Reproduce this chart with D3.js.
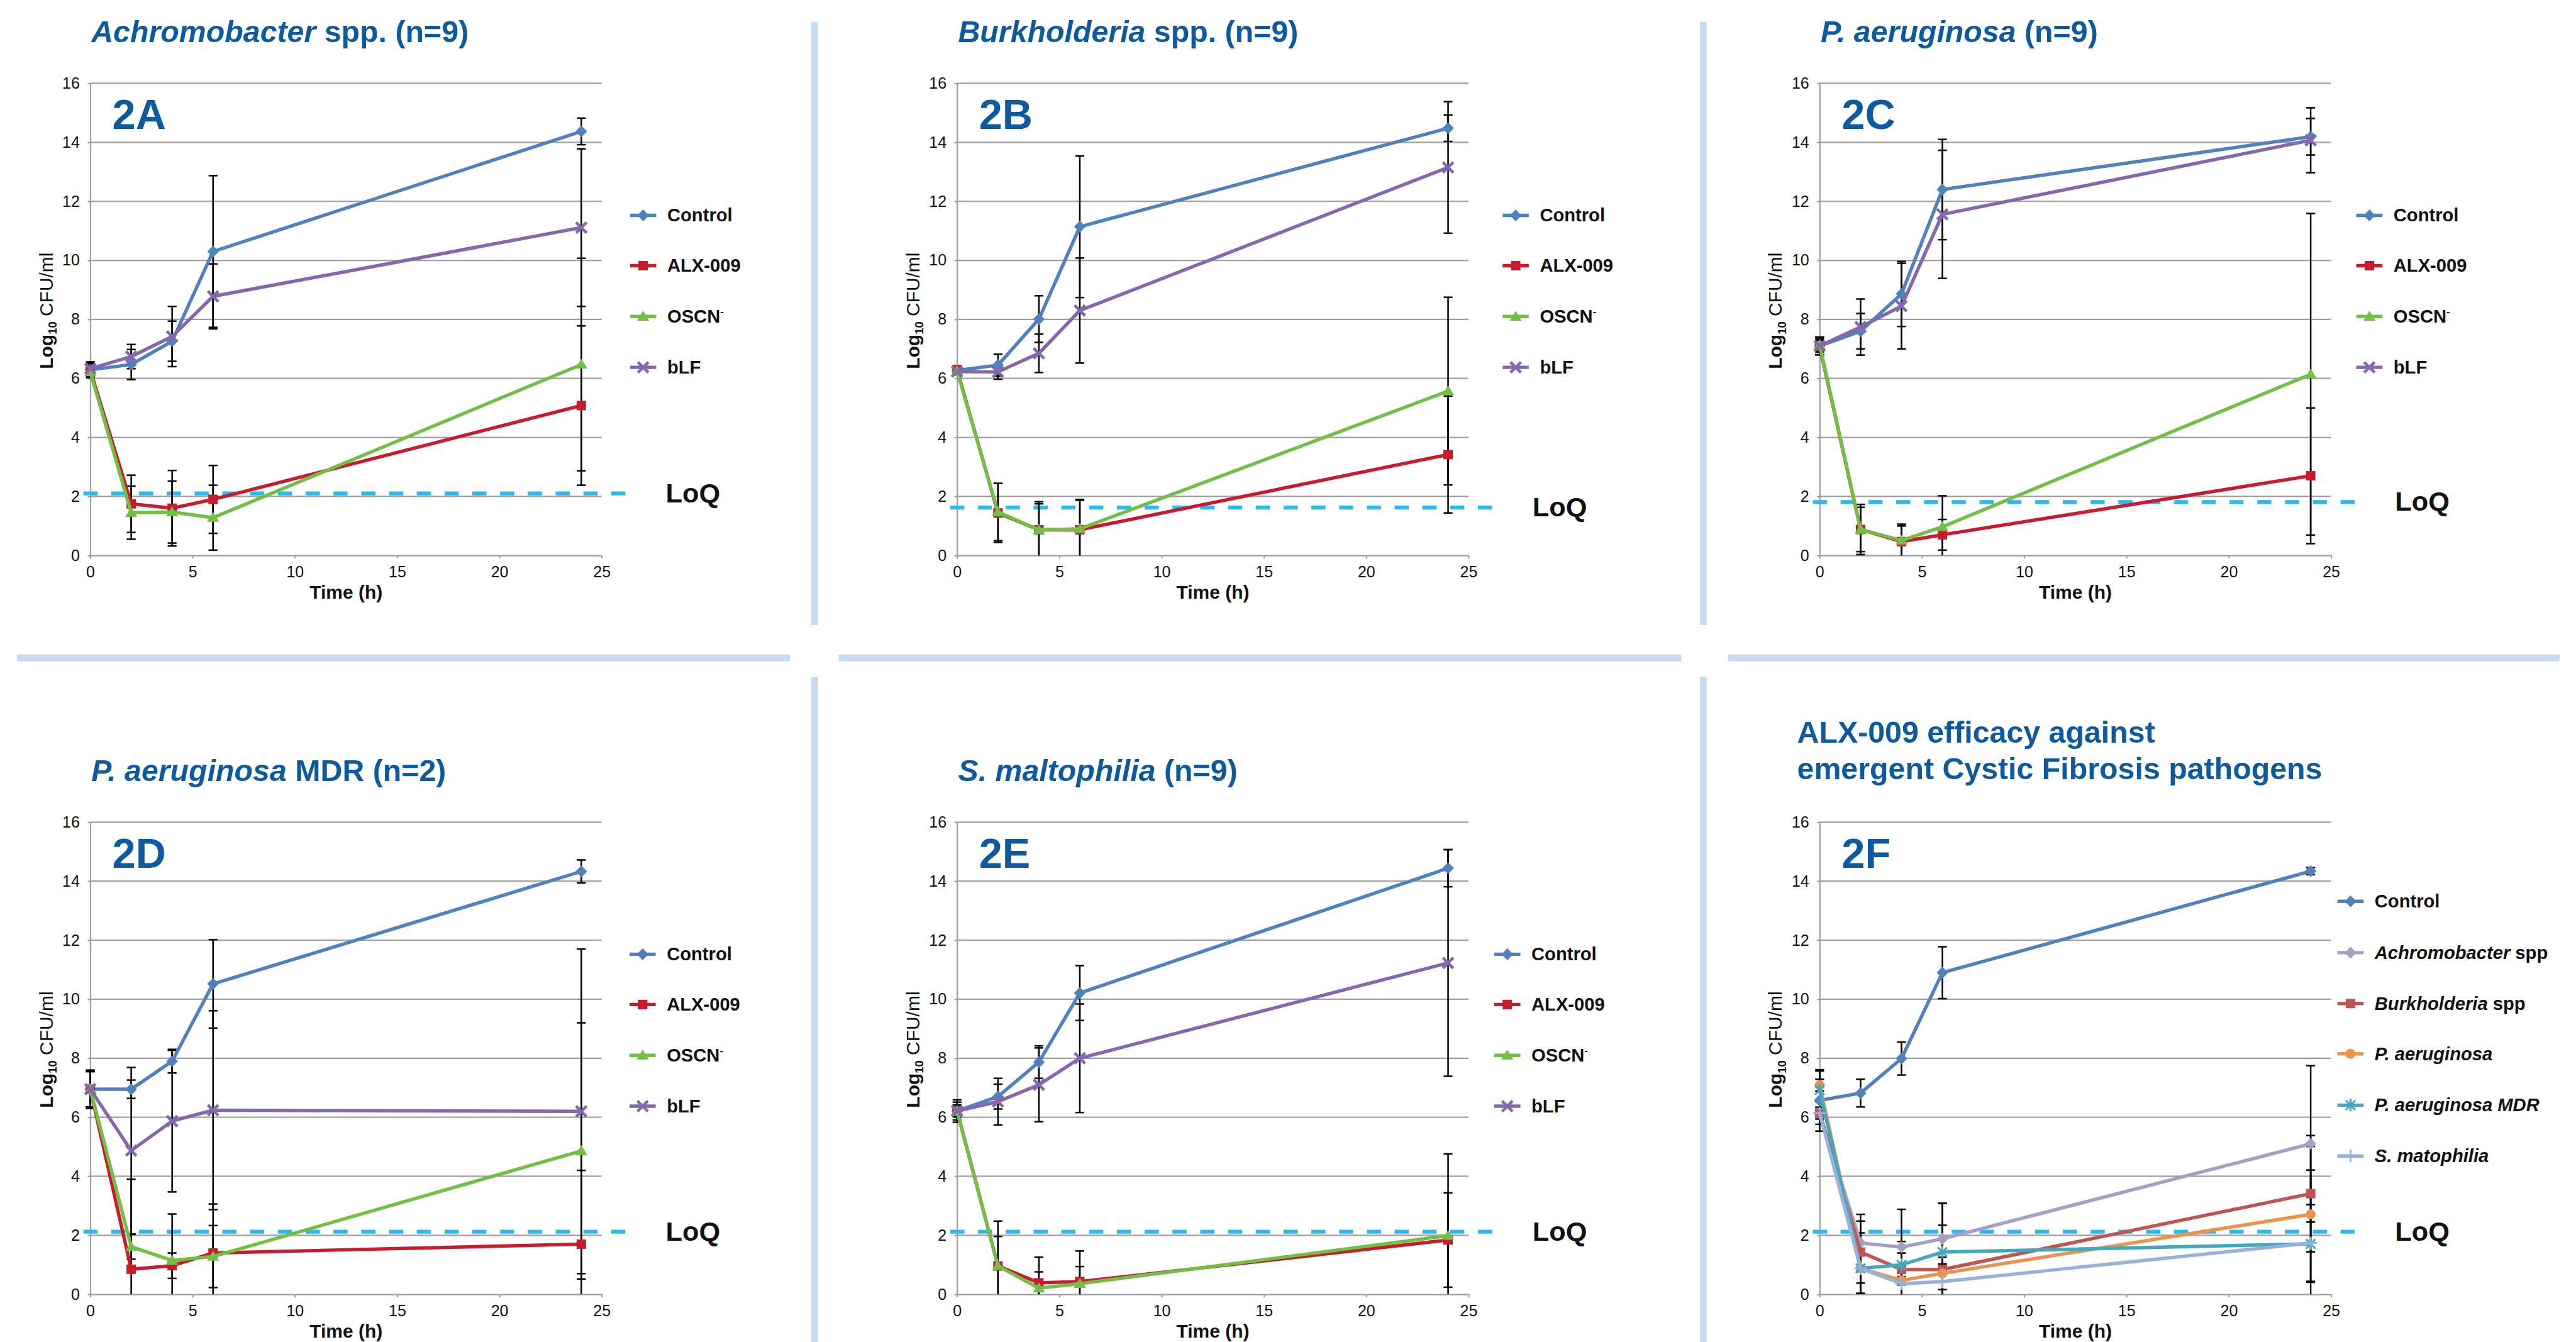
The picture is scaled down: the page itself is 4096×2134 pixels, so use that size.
<!DOCTYPE html>
<html>
<head>
<meta charset="utf-8">
<script src="https://cdn.jsdelivr.net/npm/d3@7"></script>
<style>
  html, body { margin: 0; padding: 0; background: #fff; }
  svg { display: block; }
</style>
</head>
<body>
<div id="chart"></div>
<script>
// ---------------- data ----------------
const times = [0, 2, 4, 6, 24];
const xTicks = [0, 5, 10, 15, 20, 25];
const yTicks = [0, 2, 4, 6, 8, 10, 12, 14, 16];

// 2A Achromobacter
const aControl = [6.29, 6.47, 7.26, 10.30, 14.37];
const aControlErr = [0.27, 0.51, 0.68, 2.57, 0.45];
const aALX = [6.28, 1.75, 1.60, 1.90, 5.08];
const aALXErr = [0.2, 0.97, 1.28, 1.15, 2.7];
const aOSCN = [6.22, 1.45, 1.47, 1.28, 6.47];
const aOSCNErr = [0.1, 0.9, 1.05, 1.1, 3.6];
const aBLF = [6.33, 6.74, 7.42, 8.78, 11.11];
const aBLFErr = [0.2, 0.41, 1.02, 1.1, 2.67];

// 2B Burkholderia
const bControl = [6.27, 6.45, 8.01, 11.14, 14.48];
const bControlErr = [0.15, 0.37, 0.79, 2.4, 0.45];
const bALX = [6.30, 1.44, 0.87, 0.87, 3.42];
const bALXErr = [0.1, 1.0, 0.95, 1.0, 1.98];
const bOSCN = [6.25, 1.47, 0.87, 0.90, 5.57];
const bOSCNErr = [0.1, 0.97, 0.88, 1.0, 3.18];
const bBLF = [6.23, 6.22, 6.85, 8.30, 13.15];
const bBLFErr = [0.1, 0.25, 0.65, 1.78, 2.23];

// 2C P. aeruginosa
const cControl = [7.10, 7.60, 8.86, 12.40, 14.19];
const cControlErr = [0.3, 0.6, 1.1, 1.7, 0.62];
const cALX = [7.09, 0.88, 0.47, 0.70, 2.70];
const cALXErr = [0.2, 0.85, 0.53, 0.52, 2.3];
const cOSCN = [7.14, 0.88, 0.51, 0.97, 6.14];
const cOSCNErr = [0.2, 0.75, 0.55, 1.05, 5.45];
const cBLF = [7.10, 7.74, 8.45, 11.56, 14.07];
const cBLFErr = [0.3, 0.95, 1.45, 2.17, 1.1];

// 2D P. aeruginosa MDR
const dControl = [6.95, 6.95, 7.90, 10.52, 14.33];
const dControlErr = [0.65, 0.31, 0.4, 1.5, 0.39];
const dALX = [6.95, 0.85, 0.97, 1.40, 1.70];
const dALXErr = [0.6, 3.05, 0.43, 1.66, 2.5];
const dOSCN = [6.95, 1.61, 1.15, 1.28, 4.86];
const dOSCNErr = [0.6, 0.42, 1.57, 1.05, 4.34];
const dBLF = [6.95, 4.87, 5.87, 6.24, 6.20];
const dBLFErr = [0.6, 2.82, 2.4, 3.37, 5.5];

// 2E S. maltophilia
const eControl = [6.21, 6.70, 7.87, 10.21, 14.44];
const eControlErr = [0.38, 0.42, 0.55, 0.93, 0.63];
const eALX = [6.22, 0.96, 0.39, 0.43, 1.84];
const eALXErr = [0.2, 1.52, 0.87, 1.04, 1.6];
const eOSCN = [6.21, 0.96, 0.21, 0.36, 1.99];
const eOSCNErr = [0.2, 1.0, 0.55, 0.58, 2.77];
const eBLF = [6.21, 6.53, 7.10, 8.00, 11.23];
const eBLFErr = [0.3, 0.79, 1.25, 1.84, 3.84];

// 2F ALX-009 summary
const fControl = [6.57, 6.82, 7.99, 10.90, 14.34];
const fControlErr = [1.04, 0.47, 0.56, 0.88, 0.12];
const fAchro = [6.14, 1.74, 1.60, 1.88, 5.10];
const fAchroErr = [0.2, 0.97, 1.28, 1.2, 2.65];
const fBurk = [6.14, 1.43, 0.84, 0.84, 3.41];
const fBurkErr = [0.1, 1.05, 0.95, 1.5, 1.97];
const fPa = [7.09, 0.88, 0.47, 0.71, 2.71];
const fPaErr = [0.2, 0.85, 0.53, 0.55, 2.3];
const fMDR = [6.92, 0.88, 1.00, 1.43, 1.71];
const fMDRErr = [0.65, 1.2, 0.4, 1.66, 2.5];
const fSmat = [6.14, 0.88, 0.36, 0.43, 1.74];
const fSmatErr = [0.38, 0.85, 0.6, 0.6, 1.3];

// ---------------- layout / style ----------------
const W = 4915, H = 2561;
const FONT = '"Liberation Sans", Arial, Helvetica, sans-serif';
const titleBlue = "#0d5a9e";
const gridColor = "#a0a0a4";
const loqColor = "#2abbed";
const sepColor = "#c6dbef";
const colX = [172, 1826, 3472];
const rowTop = [159, 1569];
const plotW = 976, plotH = 901;

const col = {
  control: "#4f81bd", alx: "#c81b2c", oscn: "#73bf45", blf: "#8467ad",
  achro: "#a5a0c3", burk: "#bf5450", pa: "#e8944e", mdr: "#41a8be", smat: "#96b2da"
};

function stdSeries(c, ce, a, ae, o, oe, b, be) {
  return [
    { name: [["Control"]], values: c, errors: ce, color: col.control, marker: "diamond" },
    { name: [["ALX-009"]], values: a, errors: ae, color: col.alx, marker: "square" },
    { name: [["OSCN"], ["-", "sup"]], values: o, errors: oe, color: col.oscn, marker: "triangle" },
    { name: [["bLF"]], values: b, errors: be, color: col.blf, marker: "x" }
  ];
}

const stdLegY = [252, 348, 445, 542];

const panels = [
  { label: "2A", col: 0, row: 0, loq: 2.1, legX: 1101, legY: stdLegY,
    title: [[["Achromobacter", "i"], [" spp. (n=9)"]]],
    series: stdSeries(aControl, aControlErr, aALX, aALXErr, aOSCN, aOSCNErr, aBLF, aBLFErr) },
  { label: "2B", col: 1, row: 0, loq: 1.62, legX: 1112, legY: stdLegY,
    title: [[["Burkholderia", "i"], [" spp. (n=9)"]]],
    series: stdSeries(bControl, bControlErr, bALX, bALXErr, bOSCN, bOSCNErr, bBLF, bBLFErr) },
  { label: "2C", col: 2, row: 0, loq: 1.81, legX: 1095, legY: stdLegY,
    title: [[["P. aeruginosa", "i"], [" (n=9)"]]],
    series: stdSeries(cControl, cControlErr, cALX, cALXErr, cOSCN, cOSCNErr, cBLF, cBLFErr) },
  { label: "2D", col: 0, row: 1, loq: 2.12, legX: 1100, legY: stdLegY,
    title: [[["P. aeruginosa", "i"], [" MDR (n=2)"]]],
    series: stdSeries(dControl, dControlErr, dALX, dALXErr, dOSCN, dOSCNErr, dBLF, dBLFErr) },
  { label: "2E", col: 1, row: 1, loq: 2.12, legX: 1096, legY: stdLegY,
    title: [[["S. maltophilia", "i"], [" (n=9)"]]],
    series: stdSeries(eControl, eControlErr, eALX, eALXErr, eOSCN, eOSCNErr, eBLF, eBLFErr) },
  { label: "2F", col: 2, row: 1, loq: 2.12, legX: 1059, legY: [151, 249, 346, 442, 540, 637],
    title: [[["ALX-009 efficacy against"]], [["emergent Cystic Fibrosis pathogens"]]], titleX: -43, titleY: [-152, -82],
    series: [
      { name: [["Control"]], values: fControl, errors: fControlErr, color: col.control, marker: "diamond" },
      { name: [["Achromobacter", "i"], [" spp"]], values: fAchro, errors: fAchroErr, color: col.achro, marker: "diamond" },
      { name: [["Burkholderia", "i"], [" spp"]], values: fBurk, errors: fBurkErr, color: col.burk, marker: "square" },
      { name: [["P. aeruginosa", "i"]], values: fPa, errors: fPaErr, color: col.pa, marker: "circle" },
      { name: [["P. aeruginosa MDR", "i"]], values: fMDR, errors: fMDRErr, color: col.mdr, marker: "star" },
      { name: [["S. matophilia", "i"]], values: fSmat, errors: fSmatErr, color: col.smat, marker: "plus" }
    ] }
];

// ---------------- svg ----------------
const svg = d3.select("#chart").append("svg")
  .attr("width", 4096).attr("height", 2134)
  .attr("viewBox", `0 0 ${W} ${H}`)
  .style("font-family", FONT);

svg.append("rect").attr("width", W).attr("height", H).attr("fill", "#fff");

// separators
const sepV = [[1554, 42, 1193], [3250, 42, 1193], [1554, 1292, 2561], [3250, 1292, 2561]];
const sepH = [[32, 1507], [1600, 3208], [3297, 4884]];
svg.selectAll(".sepv").data(sepV).join("line")
  .attr("x1", d => d[0]).attr("x2", d => d[0]).attr("y1", d => d[1]).attr("y2", d => d[2])
  .attr("stroke", sepColor).attr("stroke-width", 13);
svg.selectAll(".seph").data(sepH).join("line")
  .attr("x1", d => d[0]).attr("x2", d => d[1]).attr("y1", 1255.5).attr("y2", 1255.5)
  .attr("stroke", sepColor).attr("stroke-width", 13);

function addMarker(sel, type, color) {
  if (type === "diamond") {
    sel.append("path").attr("d", "M0,-11.5L11,0L0,11.5L-11,0Z").attr("fill", color);
  } else if (type === "square") {
    sel.append("rect").attr("x", -9).attr("y", -9).attr("width", 18).attr("height", 18).attr("fill", color);
  } else if (type === "triangle") {
    sel.append("path").attr("d", "M0,-11L11.5,8L-11.5,8Z").attr("fill", color);
  } else if (type === "circle") {
    sel.append("circle").attr("r", 9.5).attr("fill", color);
  } else if (type === "x") {
    sel.append("path").attr("d", "M-10,-10L10,10M-10,10L10,-10")
      .attr("stroke", color).attr("stroke-width", 5.5).attr("fill", "none");
  } else if (type === "star") {
    sel.append("path").attr("d", "M-9,-9L9,9M-9,9L9,-9M0,-12L0,12")
      .attr("stroke", color).attr("stroke-width", 3.5).attr("fill", "none");
  } else if (type === "plus") {
    sel.append("path").attr("d", "M-12,0L12,0M0,-12L0,12")
      .attr("stroke", color).attr("stroke-width", 3.5).attr("fill", "none");
  }
}

function addRuns(textSel, runs, supSize) {
  runs.forEach(r => {
    const t = textSel.append("tspan").text(r[0]);
    if (r[1] === "i") t.attr("font-style", "italic");
    if (r[1] === "sup") t.attr("font-size", supSize).attr("dy", -supSize * 0.75);
  });
}

function styleAxis(g) {
  g.attr("font-family", FONT).attr("font-size", 30);
  g.select(".domain").attr("stroke", gridColor).attr("stroke-width", 2.7);
  g.selectAll(".tick line").attr("stroke", gridColor).attr("stroke-width", 2.7);
  g.selectAll(".tick text").attr("fill", "#111");
}

function drawPanel(p) {
  const x0 = colX[p.col], y16 = rowTop[p.row];
  const x = d3.scaleLinear().domain([0, 25]).range([x0, x0 + plotW]);
  const y = d3.scaleLinear().domain([0, 16]).range([y16 + plotH, y16]);
  const g = svg.append("g").attr("class", "panel-" + p.label);

  // title
  const tX = x0 + (p.titleX !== undefined ? p.titleX : 2);
  const tY = p.titleY || [-79];
  p.title.forEach((line, i) => {
    const t = g.append("text").attr("x", tX).attr("y", y16 + tY[i])
      .attr("font-size", 58).attr("font-weight", "bold").attr("fill", titleBlue);
    addRuns(t, line, 30);
  });

  // grid
  g.selectAll(".grid").data(yTicks.filter(v => v > 0)).join("line")
    .attr("x1", x0).attr("x2", x(25))
    .attr("y1", d => y(d)).attr("y2", d => y(d))
    .attr("stroke", gridColor).attr("stroke-width", 2.7);

  // axes
  g.append("g").attr("transform", `translate(${x0},0)`)
    .call(d3.axisLeft(y).tickValues(yTicks).tickSize(5).tickSizeOuter(0).tickPadding(15))
    .call(styleAxis);
  g.append("g").attr("transform", `translate(0,${y(0)})`)
    .call(d3.axisBottom(x).tickValues(xTicks).tickSize(6).tickSizeOuter(0).tickPadding(14))
    .call(styleAxis);

  // axis titles
  g.append("text").attr("x", (x0 + x(25)) / 2).attr("y", y(0) + 82)
    .attr("text-anchor", "middle").attr("font-size", 36).attr("font-weight", "bold").attr("fill", "#111")
    .text("Time (h)");
  const yl = g.append("text")
    .attr("transform", `translate(${x0 - 72},${y(0) - 467}) rotate(-90)`)
    .attr("text-anchor", "middle").attr("font-size", 36).attr("fill", "#111");
  yl.append("tspan").attr("font-weight", "bold").text("Log");
  yl.append("tspan").attr("font-weight", "bold").attr("font-size", 22).attr("dy", 8).text("10");
  yl.append("tspan").attr("dy", -8).text(" CFU/ml");

  // panel letter
  g.append("text").attr("x", x0 + 42).attr("y", y16 + 87)
    .attr("font-size", 80).attr("font-weight", "bold").attr("fill", titleBlue)
    .text(p.label);

  // LoQ
  g.append("line").attr("x1", x0 - 13).attr("x2", x0 + 1027)
    .attr("y1", y(p.loq)).attr("y2", y(p.loq))
    .attr("stroke", loqColor).attr("stroke-width", 7.5).attr("stroke-dasharray", "27,26");
  g.append("text").attr("x", x0 + 1098).attr("y", y(p.loq) + 17)
    .attr("font-size", 52).attr("font-weight", "bold").attr("fill", "#111").text("LoQ");

  // error bars
  p.series.forEach(s => {
    const eb = g.append("g").attr("stroke", "#000").attr("stroke-width", 3).attr("fill", "none");
    s.values.forEach((v, i) => {
      const e = s.errors[i];
      const lo = Math.max(0, v - e), hi = v + e;
      const cx = x(times[i]);
      eb.append("line").attr("x1", cx).attr("x2", cx).attr("y1", y(lo)).attr("y2", y(hi));
      eb.append("line").attr("x1", cx - 8.5).attr("x2", cx + 8.5).attr("y1", y(hi)).attr("y2", y(hi));
      if (v - e >= 0) {
        eb.append("line").attr("x1", cx - 8.5).attr("x2", cx + 8.5).attr("y1", y(lo)).attr("y2", y(lo));
      }
    });
  });

  // series
  const line = d3.line().x((d, i) => x(times[i])).y(d => y(d));
  p.series.forEach(s => {
    g.append("path").datum(s.values)
      .attr("fill", "none").attr("stroke", s.color).attr("stroke-width", 6.5)
      .attr("stroke-linejoin", "round").attr("d", line);
    s.values.forEach((v, i) => {
      const m = g.append("g").attr("transform", `translate(${x(times[i])},${y(v)})`);
      addMarker(m, s.marker, s.color);
    });
  });

  // legend
  p.series.forEach((s, i) => {
    const lx = x0 + p.legX, ly = y16 + p.legY[i];
    g.append("line").attr("x1", lx - 71).attr("x2", lx - 21).attr("y1", ly).attr("y2", ly)
      .attr("stroke", s.color).attr("stroke-width", 6.5);
    const m = g.append("g").attr("transform", `translate(${lx - 46},${ly})`);
    addMarker(m, s.marker, s.color);
    const t = g.append("text").attr("x", lx).attr("y", ly + 12)
      .attr("font-size", 35).attr("font-weight", "bold").attr("fill", "#111");
    addRuns(t, s.name, 20);
  });
}

panels.forEach(drawPanel);
</script>
</body>
</html>
